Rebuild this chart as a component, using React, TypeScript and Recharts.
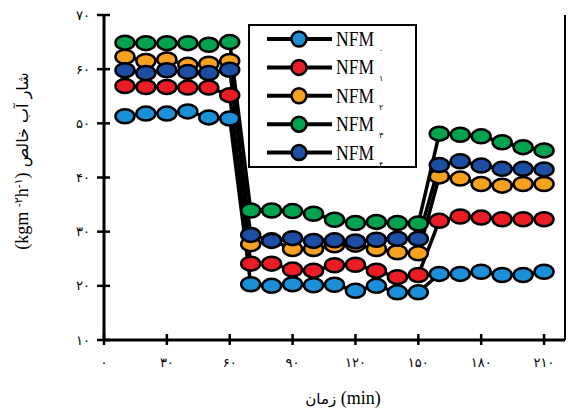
import { LineChart, Line, XAxis, YAxis, ReferenceLine } from "recharts";

const minutes = [10, 20, 30, 40, 50, 60, 70, 80, 90, 100, 110, 120, 130, 140, 150, 160, 170, 180, 190, 200, 210];

const nfm0 = [51.3, 51.8, 51.8, 52.2, 51.1, 50.9, 20.3, 20.0, 20.3, 20.1, 20.2, 19.1, 20.0, 18.8, 18.8, 22.2, 22.2, 22.6, 22.0, 22.0, 22.6];
const nfm1 = [56.9, 56.7, 56.7, 56.6, 56.6, 55.2, 24.1, 24.1, 23.0, 22.8, 23.8, 23.9, 22.8, 21.6, 22.0, 32.0, 32.8, 32.6, 32.3, 32.3, 32.3];
const nfm2 = [62.3, 61.5, 61.8, 60.8, 61.0, 61.5, 27.7, 28.4, 26.8, 26.8, 27.5, 27.6, 26.8, 26.2, 26.0, 40.2, 39.8, 38.8, 38.5, 38.8, 38.8];
const nfm3 = [64.9, 64.8, 64.8, 64.8, 64.5, 65.0, 33.9, 33.9, 33.8, 33.3, 32.2, 31.6, 31.8, 31.6, 31.5, 48.1, 47.9, 47.6, 46.5, 45.6, 45.0];
const nfm4 = [59.8, 59.3, 59.8, 59.5, 59.3, 59.9, 29.4, 28.3, 28.8, 28.3, 28.4, 28.2, 28.5, 28.7, 28.7, 42.3, 43.0, 42.2, 41.6, 41.6, 41.5];

const xTicks = [0, 30, 60, 90, 120, 150, 180, 210];
const xTickLabels = ["۰", "۳۰", "۶۰", "۹۰", "۱۲۰", "۱۵۰", "۱۸۰", "۲۱۰"];
const yTicks = [10, 20, 30, 40, 50, 60, 70];
const yTickLabels = ["۱۰", "۲۰", "۳۰", "۴۰", "۵۰", "۶۰", "۷۰"];

const seriesKeys = ["nfm0", "nfm1", "nfm2", "nfm3", "nfm4"];
const seriesSubs = ["۰", "۱", "۲", "۳", "۴"];
const seriesColors = ["#1b8fd8", "#ec1c24", "#f7a21e", "#03a24e", "#1c4ea3"];

const data = minutes.map((t, i) => ({
  t,
  nfm0: nfm0[i],
  nfm1: nfm1[i],
  nfm2: nfm2[i],
  nfm3: nfm3[i],
  nfm4: nfm4[i],
}));

const ARABIC = "'DejaVu Sans', sans-serif";
const LATIN = "'Liberation Serif', serif";

const TICK_SIZE = 6;
const TICK_MARGIN = 8;

function YTick(props: any) {
  const { x, y, payload } = props;
  const ax = x + TICK_SIZE + TICK_MARGIN;
  const i = yTicks.indexOf(payload.value);
  return (
    <g>
      <line x1={ax - 7} x2={ax + 6} y1={y} y2={y} stroke="#000" strokeWidth={2.5} />
      <text x={ax - 14} y={y} dy="0.35em" textAnchor="end" fontSize={13} fontFamily={ARABIC} fill="#000">
        {yTickLabels[i]}
      </text>
    </g>
  );
}

function XTick(props: any) {
  const { x, y, payload } = props;
  const ay = y - TICK_SIZE - TICK_MARGIN;
  const i = xTicks.indexOf(payload.value);
  return (
    <g>
      <line x1={x} x2={x} y1={ay - 6} y2={ay + 5} stroke="#000" strokeWidth={2.5} />
      <text x={x} y={ay + 27} textAnchor="middle" fontSize={13} fontFamily={ARABIC} fill="#000">
        {xTickLabels[i]}
      </text>
    </g>
  );
}

function YTitle() {
  return (
    <text
      x={22}
      y={161}
      transform="rotate(-90 22 161)"
      textAnchor="middle"
      dy="0.35em"
      fontSize={18}
      fill="#000"
    >
      <tspan fontFamily={LATIN}>{"(kgm "}</tspan>
      <tspan dy={-6} fontSize={11} fontFamily={ARABIC}>-۲</tspan>
      <tspan dy={6} fontFamily={LATIN}>h</tspan>
      <tspan dy={-6} fontSize={11} fontFamily={ARABIC}>-۱</tspan>
      <tspan dy={6} fontFamily={LATIN}>{")"}</tspan>
      <tspan fontFamily={ARABIC} fontSize={16}>{" شار آب خالص"}</tspan>
    </text>
  );
}

function XTitle() {
  return (
    <text x={343} y={404} textAnchor="middle" fontSize={18} fill="#000">
      <tspan fontFamily={ARABIC} fontSize={15}>زمان</tspan>
      <tspan fontFamily={LATIN}>{" (min)"}</tspan>
    </text>
  );
}

function makeDot(color: string) {
  return (p: any) => (
    <ellipse
      key={`d-${color}-${p.index}`}
      cx={p.cx}
      cy={p.cy}
      rx={9.5}
      ry={7}
      fill={color}
      stroke="#000"
      strokeWidth={2.5}
    />
  );
}

function LegendBox() {
  return (
    <svg width={170} height={145} style={{ display: "block", overflow: "visible" }}>
      <rect x={1} y={1} width={167} height={142} fill="#fff" stroke="#000" strokeWidth={2} />
      {seriesKeys.map((k, i) => {
        const cy = 15 + i * 28.4;
        return (
          <g key={k}>
            <line x1={19} x2={84} y1={cy} y2={cy} stroke="#000" strokeWidth={4} />
            <circle cx={51} cy={cy} r={7.5} fill={seriesColors[i]} stroke="#000" strokeWidth={2.5} />
            <text x={88} y={cy + 7} fontSize={20} fontFamily={LATIN} fill="#000" textLength={38} lengthAdjust="spacingAndGlyphs">
              NFM
            </text>
            <text x={131} y={cy + 14} fontSize={8} fontFamily={ARABIC} fill="#000">
              {seriesSubs[i]}
            </text>
          </g>
        );
      })}
    </svg>
  );
}

export default function App() {
  return (
    <div style={{ position: "absolute", left: 0, top: 0, width: 568, height: 412, background: "#fff" }}>
      <LineChart width={568} height={412} data={data} margin={{ top: 15, right: 3, left: 0, bottom: 0 }}>
        <XAxis
          dataKey="t"
          type="number"
          domain={[0, 220]}
          ticks={xTicks}
          height={72}
          tickSize={TICK_SIZE}
          tickMargin={TICK_MARGIN}
          tickLine={false}
          axisLine={{ stroke: "#000", strokeWidth: 3 }}
          tick={<XTick />}
          label={<XTitle />}
        />
        <YAxis
          type="number"
          domain={[10, 70]}
          ticks={yTicks}
          width={104}
          tickSize={TICK_SIZE}
          tickMargin={TICK_MARGIN}
          tickLine={false}
          axisLine={{ stroke: "#000", strokeWidth: 3 }}
          tick={<YTick />}
          label={<YTitle />}
        />
        <ReferenceLine x={220} stroke="#000" strokeWidth={2} ifOverflow="visible" />
        {seriesKeys.map((k, i) => (
          <Line
            key={k}
            dataKey={k}
            name={`NFM${seriesSubs[i]}`}
            type="linear"
            stroke="#000"
            strokeWidth={3.5}
            dot={makeDot(seriesColors[i])}
            activeDot={false}
            isAnimationActive={false}
          />
        ))}
      </LineChart>
      <div style={{ position: "absolute", left: 248, top: 24 }}>
        <LegendBox />
      </div>
    </div>
  );
}
